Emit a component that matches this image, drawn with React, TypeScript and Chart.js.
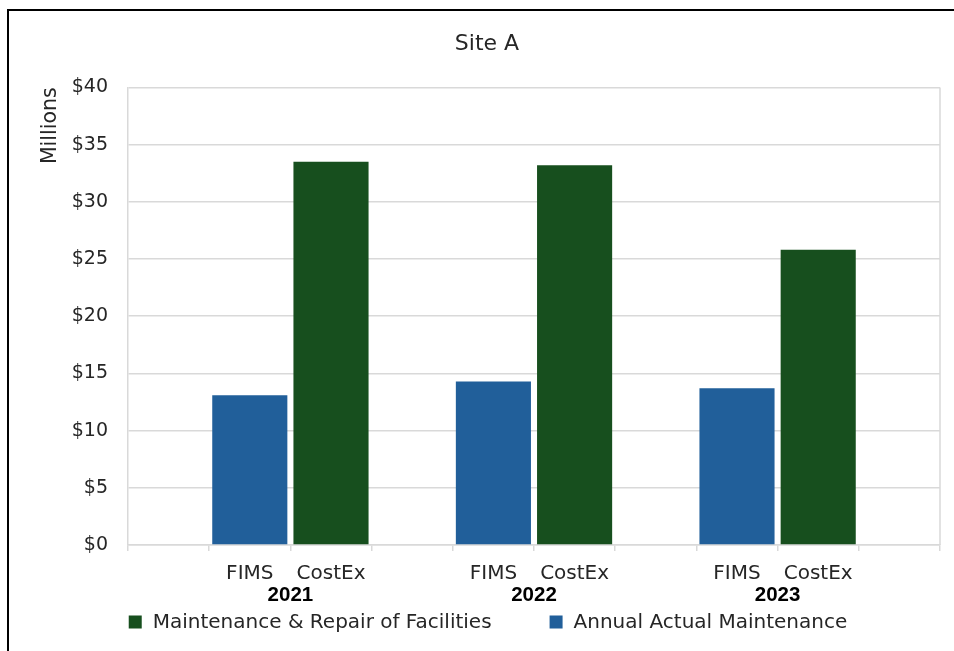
import React, { useEffect, useRef } from "react";
import { Chart, registerables } from "chart.js";

Chart.register(...registerables);

const chartTitle = "Site A";
const yAxisTitle = "Millions";
const years = ["2021", "2022", "2023"];
const subCategories = ["FIMS", "CostEx"];
const annualActualMaintenance = [13.1, 14.3, 13.7];
const maintenanceRepair = [33.5, 33.2, 25.8];
const seriesNames = ["Maintenance & Repair of Facilities", "Annual Actual Maintenance"];
const yTicksMin = 0;
const yTicksMax = 40;
const yTicksStep = 5;

const BLUE = "#215F9A";
const GREEN = "#174F1E";
const TEXT = "#262626";
const GRID = "#d9d9d9";
const FONT = "'DejaVu Sans', sans-serif";

// Build slots: spacer, FIMS, CostEx for each year, plus trailing spacer
const labels: string[] = [];
const blueData: (number | null)[] = [];
const greenData: (number | null)[] = [];
years.forEach((_, i) => {
  labels.push("");
  blueData.push(null);
  greenData.push(null);
  labels.push(subCategories[0]);
  blueData.push(annualActualMaintenance[i]);
  greenData.push(null);
  labels.push(subCategories[1]);
  blueData.push(null);
  greenData.push(maintenanceRepair[i]);
});
labels.push("");
blueData.push(null);
greenData.push(null);

const yearLabelsPlugin = {
  id: "yearLabels",
  afterDraw(chart: any) {
    const x = chart.scales.x;
    const ctx = chart.ctx;
    ctx.save();
    ctx.font = "bold 20.5px 'Liberation Sans', Arial, sans-serif";
    ctx.fillStyle = "#000";
    ctx.textAlign = "center";
    ctx.textBaseline = "middle";
    years.forEach((y, i) => {
      const a = x.getPixelForValue(3 * i + 1);
      const b = x.getPixelForValue(3 * i + 2);
      ctx.fillText(y, (a + b) / 2, x.bottom - 20);
    });
    ctx.restore();
  },
};

const frameRightPlugin = {
  id: "frameRight",
  afterDatasetsDraw(chart: any) {
    const { ctx, chartArea } = chart;
    ctx.save();
    ctx.strokeStyle = GRID;
    ctx.lineWidth = 1.5;
    ctx.beginPath();
    ctx.moveTo(chartArea.right, chartArea.top);
    ctx.lineTo(chartArea.right, chartArea.bottom);
    ctx.stroke();
    ctx.restore();
  },
};

const customLegendPlugin = {
  id: "customLegend",
  afterDraw(chart: any) {
    const ctx = chart.ctx;
    const items = [
      { text: seriesNames[0], color: GREEN },
      { text: seriesNames[1], color: BLUE },
    ];
    const box = 13;
    const gap = 11;
    const spacing = 58;
    ctx.save();
    ctx.font = "20px " + FONT;
    const widths = items.map((it) => box + gap + ctx.measureText(it.text).width);
    const total = widths.reduce((s, w) => s + w, 0) + spacing * (items.length - 1);
    const center = 488;
    let x = center - total / 2;
    const yc = 622;
    ctx.textBaseline = "middle";
    ctx.textAlign = "left";
    items.forEach((it, i) => {
      ctx.fillStyle = it.color;
      ctx.fillRect(x, yc - box / 2, box, box);
      ctx.fillStyle = TEXT;
      ctx.fillText(it.text, x + box + gap, yc + 1);
      x += widths[i] + spacing;
    });
    ctx.restore();
  },
};

export default function App() {
  const ref = useRef<HTMLCanvasElement | null>(null);
  useEffect(() => {
    if (!ref.current) return;
    const chart = new Chart(ref.current, {
      type: "bar",
      data: {
        labels,
        datasets: [
          {
            label: seriesNames[1],
            data: blueData,
            backgroundColor: BLUE,
            categoryPercentage: 1,
            barPercentage: 0.925,
          },
          {
            label: seriesNames[0],
            data: greenData,
            backgroundColor: GREEN,
            categoryPercentage: 1,
            barPercentage: 0.925,
          },
        ],
      },
      options: {
        responsive: false,
        animation: false,
        layout: { padding: { left: 34, right: 14, top: 0, bottom: 36 } },
        plugins: {
          legend: { display: false },
          tooltip: { enabled: false },
          title: {
            display: true,
            text: chartTitle,
            color: TEXT,
            font: { family: FONT, size: 22, weight: "normal" },
            padding: { top: 31, bottom: 30 },
          },
        },
        scales: {
          x: {
            stacked: true,
            offset: true,
            grid: {
              offset: true,
              drawOnChartArea: false,
              drawTicks: true,
              tickLength: 6,
              color: GRID,
              lineWidth: 1.5,
            },
            border: { display: true, color: GRID, width: 1.5 },
            ticks: {
              color: TEXT,
              font: { family: FONT, size: 20 },
              padding: 11,
              autoSkip: false,
              maxRotation: 0,
            },
            afterFit: (scale: any) => {
              scale.height = 70;
            },
          },
          y: {
            stacked: true,
            min: yTicksMin,
            max: yTicksMax,
            grid: { color: GRID, lineWidth: 1.5, drawTicks: false },
            border: { display: true, color: GRID, width: 1.5 },
            ticks: {
              stepSize: yTicksStep,
              color: TEXT,
              font: { family: FONT, size: 19 },
              padding: 20,
              callback: (v: any) => "$" + v,
            },
            title: {
              display: true,
              text: yAxisTitle,
              align: "end",
              color: TEXT,
              font: { family: FONT, size: 20.5 },
            },
            afterFit: (scale: any) => {
              scale.width = 94;
            },
          },
        },
      },
      plugins: [yearLabelsPlugin, frameRightPlugin, customLegendPlugin],
    } as any);
    return () => chart.destroy();
  }, []);

  return (
    <div style={{ position: "fixed", left: 0, top: 0, width: 954, height: 651, background: "#fff" }}>
      <canvas ref={ref} width={954} height={651} style={{ display: "block" }} />
      <div
        style={{
          position: "absolute",
          left: 7,
          top: 9,
          width: 1000,
          height: 700,
          borderLeft: "2px solid #000",
          borderTop: "2px solid #000",
          pointerEvents: "none",
        }}
      />
    </div>
  );
}
